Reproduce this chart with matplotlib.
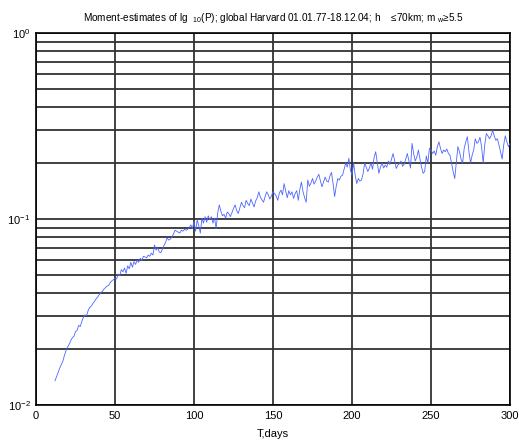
import numpy as np
import matplotlib
matplotlib.use("Agg")
import matplotlib.pyplot as plt

plt.rcParams['font.family'] = ['Liberation Sans', 'DejaVu Sans']
plt.rcParams['mathtext.fontset'] = 'custom'
plt.rcParams['mathtext.rm'] = 'Liberation Sans'
plt.rcParams['mathtext.it'] = 'Liberation Sans'

# day index and moment estimate of lg10(P)
days = np.arange(12, 301)
p_est = [
    0.0135, 0.0142, 0.0150, 0.0158, 0.0165, 0.0172, 0.0185, 0.0196, 0.0205, 0.0212,
    0.0222, 0.0230, 0.0234, 0.0248, 0.0252, 0.0268, 0.0264, 0.0282, 0.0296, 0.0305,
    0.0302, 0.0322, 0.0335, 0.0340, 0.0352, 0.0360, 0.0372, 0.0380, 0.0392, 0.0402,
    0.0408, 0.0420, 0.0428, 0.0436, 0.0440, 0.0455, 0.0465, 0.0472, 0.0480, 0.0476,
    0.0505, 0.0495, 0.0535, 0.0520, 0.0545, 0.0510, 0.0560, 0.0540, 0.0585, 0.0550,
    0.0590, 0.0570, 0.0600, 0.0585, 0.0615, 0.0600, 0.0630, 0.0625, 0.0618, 0.0640,
    0.0630, 0.0655, 0.0640, 0.0725, 0.0680, 0.0700, 0.0665, 0.0660, 0.0690, 0.0720,
    0.0750, 0.0790, 0.0770, 0.0780, 0.0800, 0.0830, 0.0870, 0.0860, 0.0850, 0.0840,
    0.0870, 0.0860, 0.0880, 0.0870, 0.0880, 0.0900, 0.0930, 0.0890, 0.0970, 0.0860,
    0.0990, 0.0920, 0.0840, 0.1010, 0.0950, 0.1030, 0.0960, 0.1040, 0.0990, 0.1030,
    0.0950, 0.1010, 0.0890, 0.1080, 0.1190, 0.1100, 0.1040, 0.1060, 0.1010, 0.1090,
    0.1070, 0.1030, 0.1080, 0.1140, 0.1190, 0.1110, 0.1070, 0.1150, 0.1230, 0.1180,
    0.1150, 0.1260, 0.1210, 0.1180, 0.1280, 0.1220, 0.1160, 0.1250, 0.1300, 0.1400,
    0.1310, 0.1270, 0.1230, 0.1320, 0.1400, 0.1350, 0.1280, 0.1330, 0.1400, 0.1370,
    0.1330, 0.1260, 0.1380, 0.1430, 0.1350, 0.1550, 0.1420, 0.1300, 0.1420, 0.1350,
    0.1400, 0.1290, 0.1370, 0.1420, 0.1260, 0.1450, 0.1580, 0.1400, 0.1300, 0.1230,
    0.1620, 0.1500, 0.1560, 0.1650, 0.1540, 0.1600, 0.1680, 0.1740, 0.1600, 0.1490,
    0.1580, 0.1680, 0.1600, 0.1580, 0.1700, 0.1780, 0.1550, 0.1320, 0.1500, 0.1650,
    0.1620, 0.1700, 0.1720, 0.1850, 0.2000, 0.1900, 0.2120, 0.1830, 0.1720, 0.2000,
    0.1720, 0.1550, 0.1650, 0.1600, 0.1620, 0.1750, 0.2000, 0.1900, 0.1800, 0.1880,
    0.2000, 0.1850, 0.2150, 0.2300, 0.2000, 0.1760, 0.1900, 0.2000, 0.1880, 0.1950,
    0.1900, 0.2050, 0.1960, 0.2100, 0.2250, 0.2050, 0.1870, 0.1950, 0.1980, 0.2050,
    0.1920, 0.1970, 0.2100, 0.2250, 0.2050, 0.1880, 0.2550, 0.2250, 0.2050, 0.2150,
    0.2350, 0.2100, 0.1900, 0.1760, 0.1800, 0.2180, 0.2000, 0.2400, 0.2350, 0.2250,
    0.2320, 0.2200, 0.2450, 0.2600, 0.2400, 0.2250, 0.2350, 0.2300, 0.2380, 0.2250,
    0.2200, 0.2000, 0.1800, 0.1650, 0.2000, 0.2450, 0.2300, 0.2100, 0.2000, 0.2400,
    0.2600, 0.2770, 0.2300, 0.2000, 0.2200, 0.2350, 0.2700, 0.2550, 0.2600, 0.2750,
    0.2450, 0.2000, 0.2500, 0.2880, 0.2800, 0.2700, 0.2800, 0.3000, 0.2800, 0.2650,
    0.2700, 0.2500, 0.2300, 0.2100, 0.2500, 0.2800, 0.2600, 0.2450, 0.2550,
]

x_ticks = [0, 50, 100, 150, 200, 250, 300]

fig = plt.figure(figsize=(5.19, 4.43), dpi=100, facecolor='white')
ax = fig.add_axes([0.0694, 0.0858, 0.9133, 0.8397])

ax.semilogy(days, p_est, color=(0.3, 0.4, 1.0), linewidth=0.6, zorder=3)

ax.set_xlim(0, 300)
ax.set_ylim(1e-2, 1e0)
ax.set_xticks(x_ticks)
ax.set_xticklabels([str(v) for v in x_ticks])

# matlab-like grid: every minor decade line drawn solid
ax.grid(True, which='major', axis='both', color='#333333', linewidth=1.3, linestyle='-')
ax.grid(True, which='minor', axis='y', color='#333333', linewidth=1.3, linestyle='-')
ax.set_axisbelow(True)

ax.tick_params(which='both', direction='in', labelsize=8, length=0, pad=4)
ax.tick_params(which='minor', labelleft=False)
for s in ax.spines.values():
    s.set_linewidth(1.2)
    s.set_color('black')

ax.set_xlabel('T,days', fontsize=8, labelpad=6)
ax.set_title('Moment-estimates of lg  $_{10}$(P); global Harvard 01.01.77-18.12.04; h    \u226470km; m $_{w}$\u22655.5',
             fontsize=7.2, pad=9)

fig.savefig('out.png', dpi=100, facecolor='white')
